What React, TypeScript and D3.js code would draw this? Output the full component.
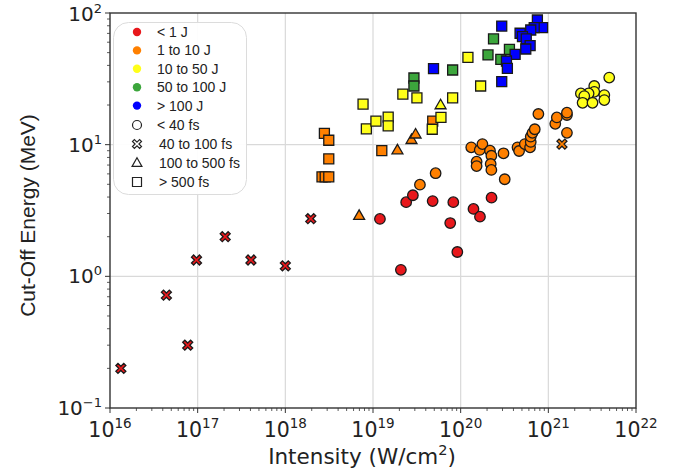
import React from "react";
import * as d3 from "d3";

// [intensity W/cm², cut-off energy MeV, pulse-duration class]
// duration classes: "c" < 40 fs, "x" 40-100 fs, "t" 100-500 fs, "s" > 500 fs
const lt1J: [number, number, string][] = [
  [1.33e16, 0.2, "x"], [4.4e16, 0.72, "x"], [7.7e16, 0.3, "x"], [9.7e16, 1.33, "x"],
  [2.06e17, 2.0, "x"], [4.05e17, 1.33, "x"], [1.0e18, 1.2, "x"], [1.95e18, 2.74, "x"],
  [1.2e19, 2.73, "c"], [2.08e19, 1.12, "c"], [2.39e19, 3.66, "c"], [2.85e19, 4.13, "c"],
  [4.79e19, 3.73, "c"], [7.6e19, 2.54, "c"], [8.24e19, 3.66, "c"], [9.16e19, 1.53, "c"],
  [1.4e20, 3.25, "c"], [1.66e20, 2.84, "c"], [2.25e20, 3.96, "c"],
];
const j1to10: [number, number, string][] = [
  [1.43e21, 10.1, "x"],
  [2.62e18, 5.7, "s"], [2.85e18, 5.7, "s"], [3.13e18, 5.7, "s"], [2.79e18, 12.2, "s"],
  [3.13e18, 10.8, "s"], [3.13e18, 7.8, "s"], [1.26e19, 9.0, "s"], [4.8e19, 15.1, "s"],
  [6.95e18, 2.89, "t"], [1.9e19, 9.1, "t"], [2.75e19, 10.9, "t"], [3.06e19, 12.0, "t"],
  [3.43e19, 4.97, "c"], [5.18e19, 6.07, "c"], [1.32e20, 9.55, "c"], [1.65e20, 9.12, "c"],
  [1.77e20, 10.1, "c"], [2.16e20, 9.0, "c"], [2.24e20, 8.24, "c"], [2.2e20, 7.13, "c"],
  [2.24e20, 6.43, "c"], [1.52e20, 7.43, "c"], [1.52e20, 6.88, "c"], [3.08e20, 8.6, "c"],
  [3.18e20, 5.46, "c"], [4.45e20, 9.55, "c"], [4.64e20, 8.95, "c"], [5.39e20, 10.1, "c"],
  [6.19e20, 9.55, "c"], [6.3e20, 10.5, "c"], [6.3e20, 11.5, "c"], [6.6e20, 12.3, "c"],
  [7.0e20, 13.1, "c"], [7.7e20, 17.1, "c"], [1.2e21, 14.4, "c"], [1.25e21, 16.1, "c"],
  [1.63e21, 16.8, "c"], [1.63e21, 17.5, "c"], [1.63e21, 12.3, "c"],
];
const j10to50: [number, number, string][] = [
  [7.7e18, 20.3, "s"], [8.4e18, 13.2, "s"], [1.08e19, 15.1, "s"], [1.49e19, 16.2, "s"],
  [1.49e19, 13.9, "s"], [2.19e19, 24.2, "s"], [3.17e19, 22.7, "s"], [5.96e19, 16.1, "s"],
  [4.74e19, 13.1, "s"], [8.1e19, 22.7, "s"], [1.21e20, 46.1, "s"], [1.69e20, 27.9, "s"],
  [5.9e19, 20.0, "t"],
  [4.95e21, 32.3, "c"], [3.34e21, 27.9, "c"], [3.34e21, 25.2, "c"], [2.88e21, 24.5, "c"],
  [2.35e21, 24.5, "c"], [2.57e21, 23.4, "c"], [2.46e21, 20.8, "c"], [3.19e21, 20.8, "c"],
  [4.35e21, 23.8, "c"], [4.35e21, 21.8, "c"],
];
const j50to100: [number, number, string][] = [
  [2.93e19, 32.1, "s"], [2.93e19, 27.9, "s"], [8.1e19, 36.9, "s"], [2.37e20, 63.5, "s"],
  [2.05e20, 48, "s"], [2.87e20, 44.5, "s"], [3.6e20, 53, "s"],
];
const gt100J: [number, number, string][] = [
  [4.9e19, 37.8, "s"], [2.94e20, 79.6, "s"], [7.5e20, 88.5, "s"], [8.6e20, 77.3, "s"],
  [6.9e20, 77.3, "s"], [6.3e20, 74.3, "s"], [4.76e20, 70.2, "s"], [5.07e20, 66.1, "s"],
  [5.6e20, 63.5, "s"], [6.2e20, 56.5, "s"], [5.53e20, 53.3, "s"], [4.18e20, 48.5, "s"],
  [3.33e20, 43.2, "s"], [3.41e20, 38, "s"], [2.94e20, 30.1, "s"],
];

const energyLabels = ["< 1 J", "1 to 10 J", "10 to 50 J", "50 to 100 J", "> 100 J"];
const energyColors = ["#e8181c", "#ff8000", "#ffff1a", "#3ca63c", "#0000ff"];
const durationLabels = ["< 40 fs", "40 to 100 fs", "100 to 500 fs", "> 500 fs"];
const durationKeys = ["c", "x", "t", "s"];
const xTickExps = [16, 17, 18, 19, 20, 21, 22];
const yTickExps = [-1, 0, 1, 2];

const W = 679, H = 472;
const L = 110, R = 636, T = 13, B = 408;

function markerPath(kind: string, s: number): string {
  const h = s / 2;
  if (kind === "c") {
    return `M${h},0A${h},${h} 0 1,1 ${-h},0A${h},${h} 0 1,1 ${h},0Z`;
  }
  if (kind === "s") {
    return `M${-h},${-h}H${h}V${h}H${-h}Z`;
  }
  if (kind === "t") {
    const r = h * 1.15;
    return `M0,${-r}L${r * 0.95},${r * 0.65}L${-r * 0.95},${r * 0.65}Z`;
  }
  const t = h * 0.42;
  const pts = [
    [0, -t], [h - t, -h], [h, -h + t], [t, 0], [h, h - t], [h - t, h],
    [0, t], [-h + t, h], [-h, h - t], [-t, 0], [-h, -h + t], [-h + t, -h],
  ];
  return "M" + pts.map((p) => p.join(",")).join("L") + "Z";
}

const sup = (s: string) => s.replace("-", "\u2212");

export default function App() {
  const x = d3.scaleLog().domain([1e16, 1e22]).range([L, R]);
  const y = d3.scaleLog().domain([0.1, 100]).range([B, T]);
  const groups = [lt1J, j1to10, j10to50, j50to100, gt100J];

  const minorX: number[] = [];
  for (let e = 16; e < 22; e++) for (let m = 2; m <= 9; m++) minorX.push(m * Math.pow(10, e));
  const minorY: number[] = [];
  for (let e = -1; e < 2; e++) for (let m = 2; m <= 9; m++) minorY.push(m * Math.pow(10, e));

  const sizeFor = (k: string) => (k === "c" ? 10.5 : 10);

  return (
    <svg width={W} height={H} style={{ position: "absolute", left: 0, top: 0, background: "#fff" }}
      fontFamily="'DejaVu Sans', sans-serif">
      {/* grid */}
      {xTickExps.slice(1, -1).map((e) => (
        <line key={"gx" + e} x1={x(Math.pow(10, e))} x2={x(Math.pow(10, e))} y1={T} y2={B}
          stroke="#d9d9d9" strokeWidth={1.2} />
      ))}
      {yTickExps.slice(1, -1).map((e) => (
        <line key={"gy" + e} x1={L} x2={R} y1={y(Math.pow(10, e))} y2={y(Math.pow(10, e))}
          stroke="#d9d9d9" strokeWidth={1.2} />
      ))}

      {/* points */}
      {groups.map((g, gi) =>
        g.map((d, i) => (
          <path key={gi + "-" + i} d={markerPath(d[2], sizeFor(d[2]))}
            transform={`translate(${x(d[0])},${y(d[1])})`}
            fill={energyColors[gi]} stroke="#1a1a1a" strokeWidth={1.3} strokeLinejoin="miter" />
        ))
      )}

      {/* spines */}
      <rect x={L} y={T} width={R - L} height={B - T} fill="none" stroke="#333" strokeWidth={1.4} />

      {/* x ticks */}
      {xTickExps.map((e) => (
        <line key={"tx" + e} x1={x(Math.pow(10, e))} x2={x(Math.pow(10, e))} y1={B} y2={B + 5}
          stroke="#333" strokeWidth={1} />
      ))}
      {minorX.map((v, i) => (
        <line key={"mx" + i} x1={x(v)} x2={x(v)} y1={B} y2={B + 3} stroke="#333" strokeWidth={0.8} />
      ))}
      {yTickExps.map((e) => (
        <line key={"ty" + e} x1={L - 5} x2={L} y1={y(Math.pow(10, e))} y2={y(Math.pow(10, e))}
          stroke="#333" strokeWidth={1} />
      ))}
      {minorY.map((v, i) => (
        <line key={"my" + i} x1={L - 3} x2={L} y1={y(v)} y2={y(v)} stroke="#333" strokeWidth={0.8} />
      ))}

      {/* tick labels */}
      {xTickExps.map((e) => (
        <text key={"lx" + e} x={x(Math.pow(10, e))} y={437} textAnchor="middle" fontSize={20.5} fill="#222">
          10<tspan fontSize={13.5} dy={-9}>{sup(String(e))}</tspan>
        </text>
      ))}
      {yTickExps.map((e) => (
        <text key={"ly" + e} x={L - 8} y={y(Math.pow(10, e)) + (e === 2 ? 8 : 7)} textAnchor="end" fontSize={20} fill="#222">
          10<tspan fontSize={13} dy={-8}>{sup(String(e))}</tspan>
        </text>
      ))}

      {/* axis labels */}
      <text x={362} y={464} textAnchor="middle" fontSize={21.5} fill="#222">
        Intensity (W/cm<tspan fontSize={14.5} dy={-9}>2</tspan><tspan dy={9}>)</tspan>
      </text>
      <text transform={`translate(35,${(T + B) / 2 + 5}) rotate(-90)`} textAnchor="middle"
        fontSize={21} fontFamily="'Liberation Sans', Arial, sans-serif" fill="#222">
        Cut-Off Energy (MeV)
      </text>

      {/* legend */}
      <rect x={113.5} y={22.5} width={133} height={172} rx={15} ry={15} fill="#fff" fillOpacity={0.95}
        stroke="#dcdcdc" strokeWidth={1} />
      {energyLabels.map((lab, i) => (
        <g key={"le" + i} transform={`translate(0,${32 + i * 18.4})`}>
          <circle cx={137} cy={0} r={4.2} fill={energyColors[i]} />
          <text x={157} y={0} dy="0.36em" fontSize={14}
            fontFamily="'Liberation Sans', Arial, sans-serif" fill="#222">{lab}</text>
        </g>
      ))}
      {durationLabels.map((lab, i) => (
        <g key={"ld" + i} transform={`translate(0,${125 + i * 19})`}>
          <path d={markerPath(durationKeys[i], 9)} transform="translate(137,0)" fill="none"
            stroke="#222" strokeWidth={1.2} />
          <text x={i === 0 ? 157 : 159} y={0} dy="0.36em" fontSize={14}
            fontFamily="'Liberation Sans', Arial, sans-serif" fill="#222">{lab}</text>
        </g>
      ))}
    </svg>
  );
}
